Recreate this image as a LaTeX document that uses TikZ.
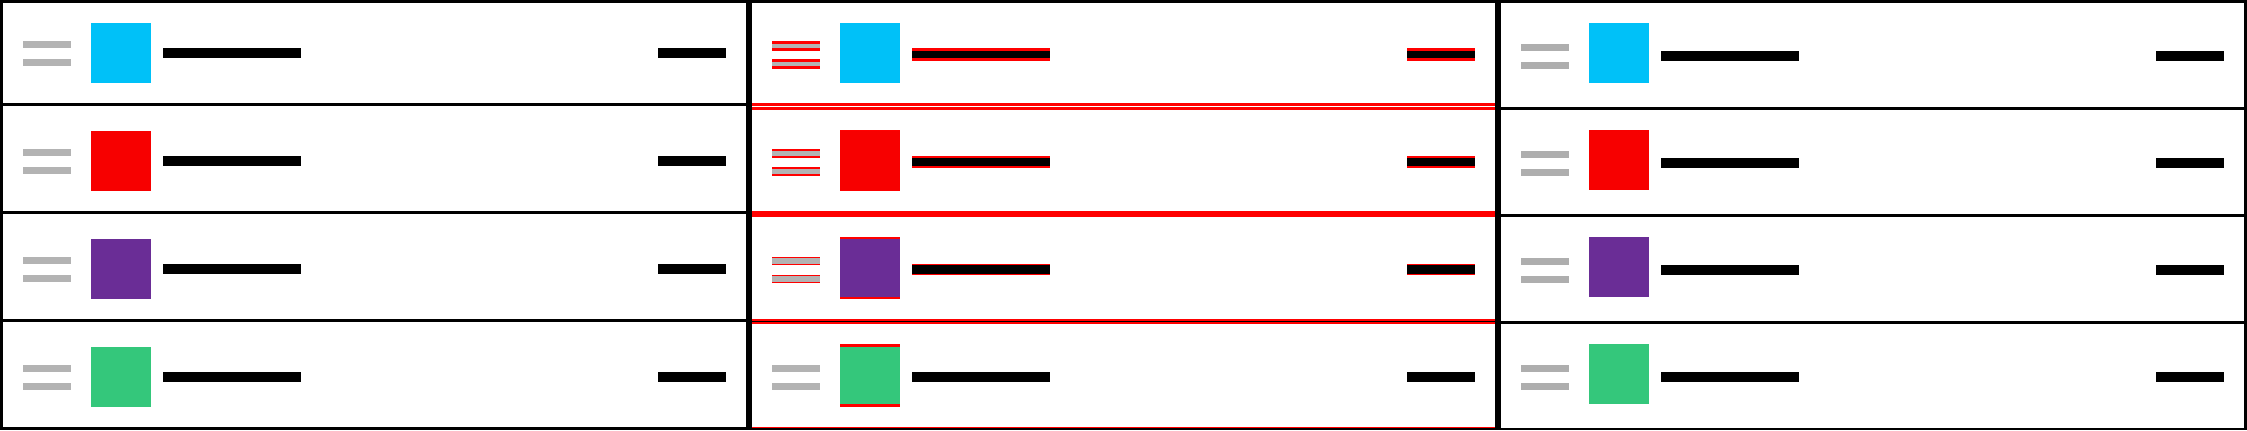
\documentclass[tikz,border=0pt]{standalone}
\definecolor{sqcyan}{RGB}{0,193,248}
\definecolor{sqred}{RGB}{247,0,0}
\definecolor{sqpurple}{RGB}{106,45,150}
\definecolor{sqgreen}{RGB}{52,199,123}
\definecolor{greyA}{RGB}{179,179,179}
\definecolor{greyB}{RGB}{174,174,174}
\definecolor{diffred}{RGB}{255,0,0}
\tikzset{
  frame/.style={fill=black},
  diff/.style={fill=diffred},
  ink/.style={fill=black},
}
\begin{document}
\begin{tikzpicture}[x=0.01cm,y=-0.01cm]
\useasboundingbox (0,0) rectangle (2247,430);
\fill[white] (0,0) rectangle (2247,430);
% ---------- Panel 1 (expected) ----------
\begin{scope}[shift={(0,0)}]
  \foreach \r/\c in {0/sqcyan,1/sqred,2/sqpurple,3/sqgreen}{
    \pgfmathsetmacro\a{108*\r}
    \fill[greyA] (23,{41+\a}) rectangle (71,{48+\a});
    \fill[greyA] (23,{59+\a}) rectangle (71,{66+\a});
    \fill[\c] (91,{23+\a}) rectangle (151,{83+\a});
    \fill[ink] (163,{48+\a}) rectangle (301,{58+\a});
    \fill[ink] (658,{48+\a}) rectangle (726,{58+\a});
  }
  \foreach \r in {0,1,2}{
    \fill[frame] (0,{103+108*\r}) rectangle (749,{106+108*\r});
  }
  \fill[frame] (0,0) rectangle (749,3);
  \fill[frame] (0,427) rectangle (749,430);
  \fill[frame] (0,0) rectangle (3,430);
  \fill[frame] (746,0) rectangle (749,430);
\end{scope}
% ---------- Panel 2 (difference) ----------
\begin{scope}[shift={(749,0)}]
  \foreach \r/\c in {0/sqcyan,1/sqred,2/sqpurple,3/sqgreen}{
    \pgfmathsetmacro\a{108*\r}
    \pgfmathsetmacro\b{107*\r}
    % union in red
    \fill[diff] (23,{41+\a}) rectangle (71,{51+\b});
    \fill[diff] (23,{59+\a}) rectangle (71,{69+\b});
    \fill[diff] (91,{23+\b}) rectangle (151,{83+\a});
    \fill[diff] (163,{48+\a}) rectangle (301,{61+\b});
    \fill[diff] (658,{48+\a}) rectangle (726,{61+\b});
    % common part in its own colour
    \fill[greyA] (23,{44+\b}) rectangle (71,{48+\a});
    \fill[greyA] (23,{62+\b}) rectangle (71,{66+\a});
    \fill[\c] (91,{23+\a}) rectangle (151,{83+\b});
    \fill[ink] (163,{51+\b}) rectangle (301,{58+\a});
    \fill[ink] (658,{51+\b}) rectangle (726,{58+\a});
  }
  \foreach \r in {0,1,2}{
    \fill[diff] (3,{103+108*\r}) rectangle (746,{106+108*\r});
    \fill[diff] (3,{107+107*\r}) rectangle (746,{110+107*\r});
  }
  \fill[frame] (3,321) rectangle (746,322);
  \fill[diff] (3,427) rectangle (746,428);
  \fill[frame] (0,0) rectangle (749,3);
  \fill[frame] (0,428) rectangle (749,430);
  \fill[frame] (0,0) rectangle (3,430);
  \fill[frame] (746,0) rectangle (749,430);
\end{scope}
% ---------- Panel 3 (actual) ----------
\begin{scope}[shift={(1498,0)}]
  \foreach \r/\c in {0/sqcyan,1/sqred,2/sqpurple,3/sqgreen}{
    \pgfmathsetmacro\b{107*\r}
    \fill[greyB] (23,{44+\b}) rectangle (71,{51+\b});
    \fill[greyB] (23,{62+\b}) rectangle (71,{69+\b});
    \fill[\c] (91,{23+\b}) rectangle (151,{83+\b});
    \fill[ink] (163,{51+\b}) rectangle (301,{61+\b});
    \fill[ink] (658,{51+\b}) rectangle (726,{61+\b});
  }
  \foreach \r in {0,1,2}{
    \fill[frame] (0,{107+107*\r}) rectangle (749,{110+107*\r});
  }
  \fill[frame] (0,0) rectangle (749,3);
  \fill[frame] (0,428) rectangle (749,430);
  \fill[frame] (0,0) rectangle (3,430);
  \fill[frame] (746,0) rectangle (749,430);
\end{scope}
\end{tikzpicture}
\end{document}
